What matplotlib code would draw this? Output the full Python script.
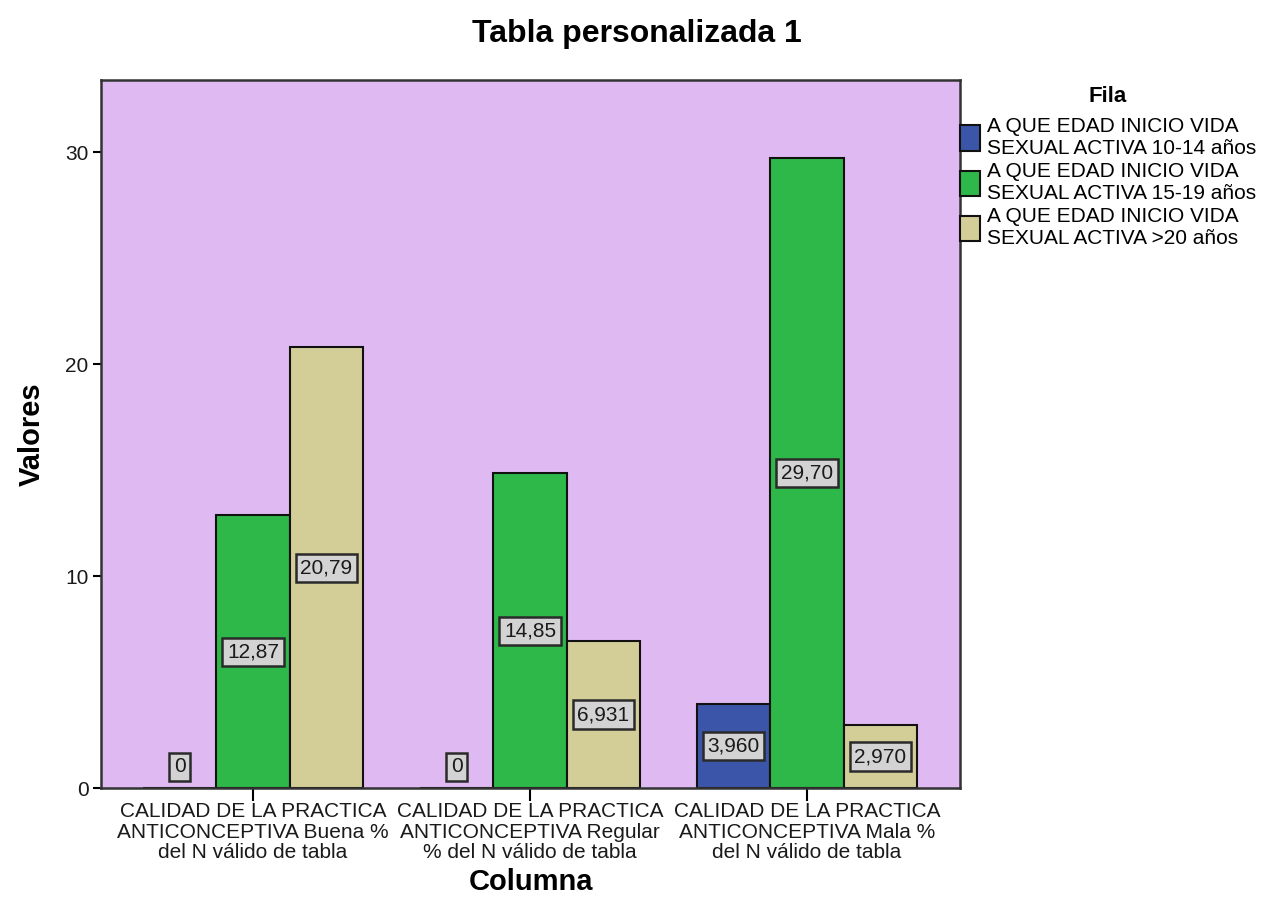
import matplotlib
matplotlib.use("Agg")
import matplotlib.pyplot as plt
import numpy as np
from matplotlib.patches import Patch

plt.rcParams['font.family'] = ['Liberation Sans', 'DejaVu Sans']

categories = ["CALIDAD DE LA PRACTICA\nANTICONCEPTIVA Buena %\ndel N válido de tabla",
              "CALIDAD DE LA PRACTICA\nANTICONCEPTIVA Regular\n% del N válido de tabla",
              "CALIDAD DE LA PRACTICA\nANTICONCEPTIVA Mala %\ndel N válido de tabla"]
series_names = ["A QUE EDAD INICIO VIDA\nSEXUAL ACTIVA 10-14 años",
                "A QUE EDAD INICIO VIDA\nSEXUAL ACTIVA 15-19 años",
                "A QUE EDAD INICIO VIDA\nSEXUAL ACTIVA >20 años"]
values_10_14 = [0, 0, 3.960]
values_15_19 = [12.87, 14.85, 29.70]
values_20 = [20.79, 6.931, 2.970]
labels_10_14 = ["0", "0", "3,960"]
labels_15_19 = ["12,87", "14,85", "29,70"]
labels_20 = ["20,79", "6,931", "2,970"]
colors = ["#3B56A8", "#2EB84A", "#D3CE98"]

fig = plt.figure(figsize=(12.82, 9.15), dpi=100)
ax = fig.add_axes([101/1282, 1-788/915, (960-101)/1282, (788-80)/915])
ax.set_facecolor("#DFBAF2")

x = np.arange(len(categories))
w = 0.265
all_vals = [values_10_14, values_15_19, values_20]
all_labels = [labels_10_14, labels_15_19, labels_20]
for i, (vals, labs) in enumerate(zip(all_vals, all_labels)):
    pos = x + (i - 1) * w
    ax.bar(pos, vals, width=w, color=colors[i], edgecolor="#111111", linewidth=1.5, zorder=2)
    for p, v, l in zip(pos, vals, labs):
        yy = max(v / 2, 1.0)
        ax.text(p, yy, l, ha="center", va="center", fontsize=15, color="#1a1a1a", zorder=4,
                bbox=dict(boxstyle="square,pad=0.22", facecolor="#D3D3D3", edgecolor="#2a2a2a", linewidth=1.8))

ax.set_xlim(-0.549, 2.552)
ax.set_ylim(0, 33.4)
ax.set_yticks([0, 10, 20, 30])
ax.set_xticks(x)
ax.set_xticklabels(categories, fontsize=15, linespacing=1.12, color="#1a1a1a")
ax.tick_params(axis="y", labelsize=15, length=6, width=1.5, pad=3, labelcolor="#1a1a1a")
ax.tick_params(axis="x", length=9, width=1.5, pad=1)
for s in ax.spines.values():
    s.set_linewidth(1.8)
    s.set_color("#333333")

ax.set_ylabel("Valores", fontsize=21, fontweight="bold", labelpad=14)
ax.set_xlabel("Columna", fontsize=21, fontweight="bold", labelpad=4)
fig.suptitle("Tabla personalizada 1", fontsize=23, fontweight="bold", x=0.497, y=1-34/915, va="center")

fig.text(1108/1282, 1-97/915, "Fila", fontsize=16, fontweight="bold", ha="center", va="center")
handles = [Patch(facecolor=c, edgecolor="#111111", linewidth=1.5) for c in colors]
leg = fig.legend(handles, series_names, loc="upper left",
                 bbox_to_anchor=(960/1282, 1-117/915), frameon=False, fontsize=15,
                 handlelength=0.95, handleheight=1.5, handletextpad=0.35, labelspacing=0.2,
                 borderaxespad=0, borderpad=0)
for t in leg.get_texts():
    t.set_linespacing(1.2)
fig.savefig("out.png", dpi=100)
